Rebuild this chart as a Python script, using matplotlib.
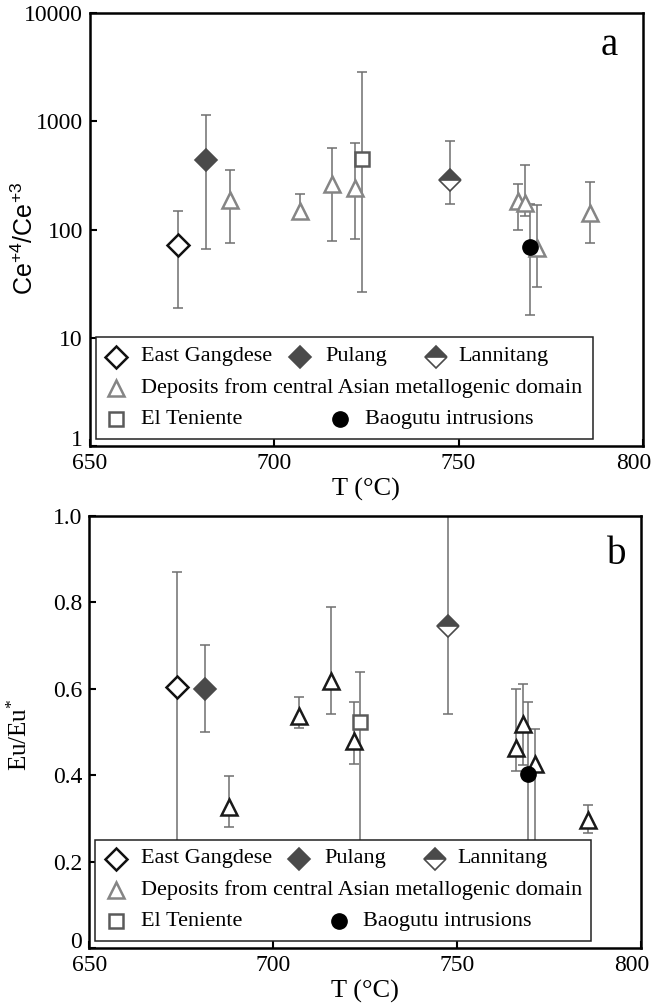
import matplotlib
matplotlib.use('Agg')
import matplotlib.pyplot as plt
from matplotlib.patches import Rectangle
from matplotlib.ticker import FixedLocator, NullLocator, FuncFormatter
from matplotlib.transforms import ScaledTranslation

plt.rcParams['font.family'] = ['Liberation Serif', 'DejaVu Serif']
plt.rcParams['mathtext.fontset'] = 'custom'
plt.rcParams['mathtext.rm'] = 'Liberation Serif'
plt.rcParams['mathtext.it'] = 'Liberation Serif:italic'
plt.rcParams['mathtext.sf'] = 'Liberation Sans'

# ── Data ─────────────────────────────────────────────────────
# temperatures (°C)
eg_T = [673.9]
pul_T = [681.5]
camd_T = [688.0, 707.0, 715.8, 722.0, 766.0, 768.0, 771.3, 785.6]
ten_T = [723.7]
lan_T = [747.6]
bao_T = [769.3]

# panel a: Ce4+/Ce3+  (value, lower, upper)
eg_ce, eg_ce_lo, eg_ce_hi = [72.6], [19], [147]
pul_ce, pul_ce_lo, pul_ce_hi = [438], [65.7], [1143]
camd_ce = [186, 148, 261, 243, 183, 177, 68, 143]
camd_ce_lo = [75, 129, 78, 82, 99, 133, 29.5, 75]
camd_ce_hi = [352, 211, 566, 635, 265, 394, 168, 274]
ten_ce, ten_ce_lo, ten_ce_hi = [451], [26.8], [2884]
lan_ce, lan_ce_lo, lan_ce_hi = [290], [171], [653]
bao_ce, bao_ce_lo, bao_ce_hi = [68.6], [16.3], [174]

# panel b: Eu/Eu*
eg_eu, eg_eu_lo, eg_eu_hi = [0.603], [0.15], [0.870]
pul_eu, pul_eu_lo, pul_eu_hi = [0.599], [0.499], [0.702]
camd_eu = [0.326, 0.537, 0.618, 0.480, 0.464, 0.519, 0.425, 0.296]
camd_eu_lo = [0.281, 0.509, 0.541, 0.427, 0.410, 0.424, 0.15, 0.267]
camd_eu_hi = [0.399, 0.582, 0.789, 0.570, 0.599, 0.610, 0.507, 0.331]
ten_eu, ten_eu_lo, ten_eu_hi = [0.522], [0.10], [0.640]
lan_eu, lan_eu_lo, lan_eu_hi = [0.746], [0.541], [1.05]
bao_eu, bao_eu_lo, bao_eu_hi = [0.402], [0.15], [0.569]

# ── Styles ───────────────────────────────────────────────────
ERR = '#6f6f6f'
DARK = '#4a4a4a'
ST_EG = dict(marker='D', ms=11, mfc='white', mec='#111111', mew=1.8, ls='none')
ST_PUL = dict(marker='D', ms=11, mfc=DARK, mec=DARK, mew=1.2, ls='none')
ST_LAN = dict(marker='D', ms=11, mfc=DARK, mec=DARK, mew=1.2, ls='none',
              fillstyle='top', markerfacecoloralt='white')
ST_TRI_A = dict(marker='^', ms=12, mfc='white', mec='#858585', mew=1.8, ls='none')
ST_TRI_B = dict(marker='^', ms=12, mfc='white', mec='#1a1a1a', mew=1.8, ls='none')
ST_TEN = dict(marker='s', ms=10, mfc='white', mec='#5a5a5a', mew=1.8, ls='none')
ST_BAO = dict(marker='o', ms=11, mfc='black', mec='black', mew=1, ls='none')


def err_points(ax, x, y, lo, hi, style):
    yerr = [[v - l for v, l in zip(y, lo)], [h - v for v, h in zip(y, hi)]]
    ax.errorbar(x, y, yerr=yerr, fmt='none', ecolor=ERR, elinewidth=1.1,
                capsize=3.6, capthick=1.1, zorder=2)
    ax.plot(x, y, zorder=3, **style)


def draw_legend(ax):
    ax.add_patch(Rectangle((0.011, 0.016), 0.898, 0.235, transform=ax.transAxes,
                           facecolor='white', edgecolor='#222222', lw=1.1,
                           zorder=5))
    rows = [0.206, 0.134, 0.062]
    entries = [
        (0.048, 0.093, rows[0], ST_EG, 'East Gangdese'),
        (0.380, 0.426, rows[0], ST_PUL, 'Pulang'),
        (0.626, 0.667, rows[0], ST_LAN, 'Lannitang'),
        (0.048, 0.093, rows[1], ST_TRI_A, 'Deposits from central Asian metallogenic domain'),
        (0.048, 0.093, rows[2], ST_TEN, 'El Teniente'),
        (0.452, 0.497, rows[2], ST_BAO, 'Baogutu intrusions'),
    ]
    for mx, tx, ry, st, label in entries:
        ax.plot([mx], [ry], transform=ax.transAxes, clip_on=False, zorder=6, **st)
        ax.text(tx, ry, label, transform=ax.transAxes, fontsize=16,
                va='center', ha='left', zorder=6)


def style_axes(ax, fig):
    for sp in ax.spines.values():
        sp.set_linewidth(1.8)
    ax.tick_params(direction='in', length=5, width=1.5, labelsize=17, pad=5,
                   top=False, right=False)
    ax.set_xlim(650, 800)
    ax.xaxis.set_major_locator(FixedLocator([650, 700, 750, 800]))
    ax.set_xlabel('T (°C)', fontsize=19)
    ax.xaxis.set_label_coords(0.5, -0.074)
    # lowest y label sits just above the axis corner, last x label nudged left
    ax.yaxis.get_major_ticks()[0].label1.set_verticalalignment('baseline')
    lab = ax.xaxis.get_major_ticks()[-1].label1
    lab.set_transform(lab.get_transform() +
                      ScaledTranslation(-0.09, 0, fig.dpi_scale_trans))


fig = plt.figure(figsize=(6.56, 10.07), dpi=100, facecolor='white')
ax1 = fig.add_axes([0.137, 0.557, 0.843, 0.430])
ax2 = fig.add_axes([0.136, 0.0586, 0.841, 0.4290])

# ─── Panel a ─────────────────────────────────────────────────
err_points(ax1, eg_T, eg_ce, eg_ce_lo, eg_ce_hi, ST_EG)
err_points(ax1, pul_T, pul_ce, pul_ce_lo, pul_ce_hi, ST_PUL)
err_points(ax1, camd_T, camd_ce, camd_ce_lo, camd_ce_hi, ST_TRI_A)
err_points(ax1, ten_T, ten_ce, ten_ce_lo, ten_ce_hi, ST_TEN)
err_points(ax1, lan_T, lan_ce, lan_ce_lo, lan_ce_hi, ST_LAN)
err_points(ax1, bao_T, bao_ce, bao_ce_lo, bao_ce_hi, ST_BAO)
ax1.set_yscale('log')
ax1.set_ylim(1, 10000)
ax1.yaxis.set_major_locator(FixedLocator([1, 10, 100, 1000, 10000]))
ax1.yaxis.set_minor_locator(NullLocator())
ax1.yaxis.set_major_formatter(FuncFormatter(lambda v, _: f'{v:.0f}'))
style_axes(ax1, fig)
ax1.set_ylabel(r'$\mathsf{Ce^{+4}/Ce^{+3}}$', fontsize=18)
ax1.yaxis.set_label_coords(-0.094, 0.48)
ax1.text(0.939, 0.926, 'a', transform=ax1.transAxes, fontsize=28,
         ha='center', va='center')
draw_legend(ax1)

# ─── Panel b ─────────────────────────────────────────────────
err_points(ax2, eg_T, eg_eu, eg_eu_lo, eg_eu_hi, ST_EG)
err_points(ax2, pul_T, pul_eu, pul_eu_lo, pul_eu_hi, ST_PUL)
err_points(ax2, camd_T, camd_eu, camd_eu_lo, camd_eu_hi, ST_TRI_B)
err_points(ax2, ten_T, ten_eu, ten_eu_lo, ten_eu_hi, ST_TEN)
err_points(ax2, lan_T, lan_eu, lan_eu_lo, lan_eu_hi, ST_LAN)
err_points(ax2, bao_T, bao_eu, bao_eu_lo, bao_eu_hi, ST_BAO)
ax2.set_ylim(0, 1.0)
ax2.yaxis.set_major_locator(FixedLocator([0, 0.2, 0.4, 0.6, 0.8, 1.0]))
ax2.yaxis.set_major_formatter(FuncFormatter(lambda v, _: '0' if v == 0 else f'{v:.1f}'))
style_axes(ax2, fig)
ax2.set_ylabel(r'Eu/Eu$^{\mathregular{*}}$', fontsize=18)
ax2.yaxis.set_label_coords(-0.103, 0.493)
ax2.text(0.957, 0.91, 'b', transform=ax2.transAxes, fontsize=28,
         ha='center', va='center')
draw_legend(ax2)

fig.savefig('out.png', dpi=100, facecolor='white')
